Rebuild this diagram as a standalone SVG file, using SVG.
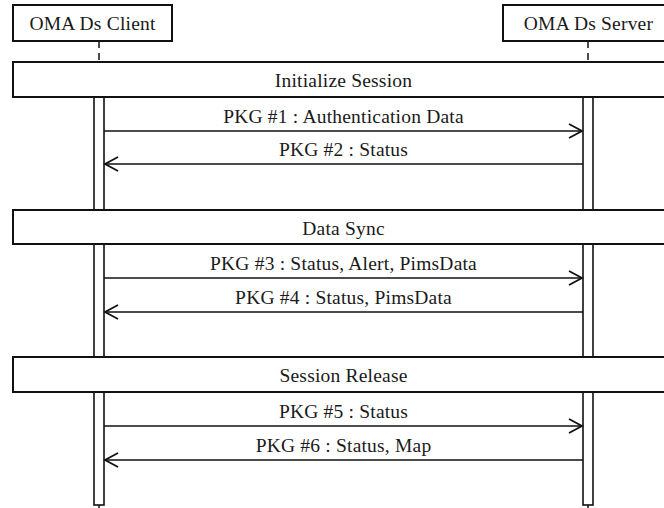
<svg xmlns="http://www.w3.org/2000/svg" width="664" height="508" viewBox="0 0 664 508">
  <style>
    .box { fill: #ffffff; stroke: #111111; stroke-width: 2; }
    .bar { fill: #ffffff; stroke: #111111; stroke-width: 1.6; }
    .life { stroke: #111111; stroke-width: 1.5; stroke-dasharray: 7 5; fill: none; }
    .msg { stroke: #111111; stroke-width: 1.6; fill: none; }
    .head { stroke: #111111; stroke-width: 1.8; fill: none; }
    text { font-family: "Liberation Serif", "Times New Roman", serif; font-size: 19.5px; letter-spacing: 0.2px; fill: #1a1a1a; text-anchor: middle; }
  </style>

  <!-- participants -->
  <g id="client">
    <rect class="box" x="13" y="5" width="159" height="36"/>
    <text x="92.5" y="29.5">OMA Ds Client</text>
  </g>
  <g id="server">
    <rect class="box" x="503" y="5" width="171" height="36"/>
    <text x="588.5" y="29.5">OMA Ds Server</text>
  </g>

  <!-- lifelines between phases -->
  <g id="lifelines">
    <path class="life" d="M99 41V62M588 41V62"/>
    <path class="life" d="M99 505V508M588 505V508"/>
  </g>

  <!-- activation bars -->
  <g id="activations">
    <rect class="bar" x="94" y="97" width="10" height="113"/>
    <rect class="bar" x="583" y="97" width="10" height="113"/>
    <rect class="bar" x="94" y="244" width="10" height="113"/>
    <rect class="bar" x="583" y="244" width="10" height="113"/>
    <rect class="bar" x="94" y="392" width="10" height="113"/>
    <rect class="bar" x="583" y="392" width="10" height="113"/>
  </g>

  <!-- phase frames -->
  <g id="phase-init">
    <rect class="box" x="13" y="62" width="661" height="35"/>
    <text x="343.5" y="87">Initialize Session</text>
  </g>
  <g id="phase-sync">
    <rect class="box" x="13" y="210" width="661" height="34"/>
    <text x="343.5" y="235">Data Sync</text>
  </g>
  <g id="phase-release">
    <rect class="box" x="13" y="357" width="661" height="35"/>
    <text x="343.5" y="382">Session Release</text>
  </g>

  <!-- messages -->
  <g id="connectors">
    <path class="msg" d="M104 131H582"/>
    <path class="head" d="M569 124L582 131L569 138"/>
    <path class="msg" d="M105 164H583"/>
    <path class="head" d="M118 157L105 164L118 171"/>

    <path class="msg" d="M104 278H582"/>
    <path class="head" d="M569 271L582 278L569 285"/>
    <path class="msg" d="M105 312H583"/>
    <path class="head" d="M118 305L105 312L118 319"/>

    <path class="msg" d="M104 426H582"/>
    <path class="head" d="M569 419L582 426L569 433"/>
    <path class="msg" d="M105 460H583"/>
    <path class="head" d="M118 453L105 460L118 467"/>
  </g>

  <g id="labels">
    <text x="343.5" y="122.5">PKG #1 : Authentication Data</text>
    <text x="343.5" y="155.5">PKG #2 : Status</text>
    <text x="343.5" y="270">PKG #3 : Status, Alert, PimsData</text>
    <text x="343.5" y="303.5">PKG #4 : Status, PimsData</text>
    <text x="343.5" y="417.5">PKG #5 : Status</text>
    <text x="343.5" y="451.5">PKG #6 : Status, Map</text>
  </g>
</svg>
